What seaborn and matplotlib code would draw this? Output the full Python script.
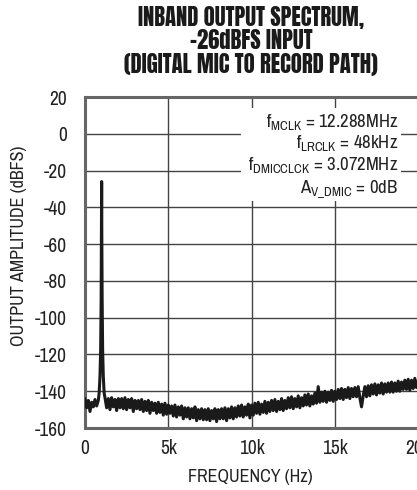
import numpy as np
import pandas as pd
import matplotlib
matplotlib.use("Agg")
import matplotlib.pyplot as plt
import seaborn as sns

# -----------------------------
# Data
# -----------------------------
# low band before the 1kHz tone (100Hz steps)
pre_freq = [0, 100, 200, 300, 400, 500, 600, 700, 800]
pre_db = [-144, -149, -145, -151, -146, -148.5, -144.5, -148, -145]

# the -26dBFS tone at 1kHz
tone_freq = [850, 900, 940, 970, 990, 1000, 1010, 1030, 1060, 1100, 1150]
tone_db = [-141, -132, -118, -90, -55, -26, -55, -90, -118, -132, -141]

# noise floor 1.2kHz .. 20kHz (100Hz steps)
floor_freq = list(range(1200, 20001, 100))
floor_db = [
    -143.5, -149, -144, -150, -143.5, -148.5, -144.5, -150.5, -144, -149,
    -144, -149.5, -143.5, -150, -144.5, -149, -144, -151, -145, -149.5,
    -145, -150, -144.5, -151, -145.5, -150.5, -145, -152, -146, -150.5,
    -146.5, -152, -146, -151.5, -147, -153, -146.5, -152.5, -147.5, -152,
    -148, -153.5, -147.5, -154, -148.5, -153, -148, -155, -149, -154,
    -149, -155, -149.5, -154.5, -148.5, -156, -150, -155, -149.5, -155.5,
    -150, -155.5, -149.5, -156, -150.5, -155, -149.5, -156.5, -150, -155,
    -149.5, -155, -149, -156, -149.5, -154.5, -148.5, -155, -149, -154,
    -148, -153.5, -147.5, -154, -148.5, -153, -147, -154.5, -147.5, -153,
    -146.5, -152, -146, -152.5, -147, -151.5, -145.5, -152, -146, -151,
    -145, -150.5, -144.5, -151, -145.5, -150, -144, -150.5, -145, -149.5,
    -143.5, -149, -143, -149.5, -144, -148.5, -142.5, -149, -143.5, -148,
    -142, -147.5, -141.5, -148, -142.5, -147, -141, -146.5, -137.5, -146,
    -140.5, -145.5, -140, -146, -140.5, -145, -139.5, -145.5, -140, -144.5,
    -139, -144, -138.5, -144.5, -139, -143.5, -138, -144, -138.5, -143,
    -138, -143, -137.5, -143.5, -148.5, -142.5, -137.5, -143, -137, -142.5,
    -136.5, -141.5, -136, -142, -136.5, -141, -135.5, -141.5, -136, -140.5,
    -135.5, -140.5, -135, -140.5, -135.5, -140, -134.5, -140, -135, -139,
    -134, -139, -133.5, -139.5, -134, -138.5, -133, -138, -134,
]

y_ticks = [20, 0, -20, -40, -60, -80, -100, -120, -140, -160]
x_ticks = [0, 5000, 10000, 15000, 20000]
x_tick_labels = ["0", "5k", "10k", "15k", "20k"]

notes = [
    r"$\mathrm{f_{MCLK}}$ = 12.288MHz",
    r"$\mathrm{f_{LRCLK}}$ = 48kHz",
    r"$\mathrm{f_{DMICCLCK}}$ = 3.072MHz",
    r"$\mathrm{A_{V\_DMIC}}$ = 0dB",
]

df = pd.DataFrame({
    "freq": pre_freq + tone_freq + floor_freq,
    "db": pre_db + tone_db + floor_db,
})

# -----------------------------
# Style
# -----------------------------
sns.set_style("white")
body_font = ["Archivo Narrow", "DejaVu Sans"]
plt.rcParams["font.family"] = body_font
plt.rcParams["axes.unicode_minus"] = False
plt.rcParams["mathtext.fontset"] = "custom"
plt.rcParams["mathtext.rm"] = "Archivo Narrow"
plt.rcParams["mathtext.it"] = "Archivo Narrow"

fig = plt.figure(figsize=(4.17, 4.90), dpi=100)
ax = fig.add_axes([0.2038, 0.1265, 0.799, 0.6755])

sns.lineplot(data=df, x="freq", y="db", ax=ax, color="#1a1a1a",
             linewidth=2.2, estimator=None, sort=False, zorder=3)

ax.set_xlim(0, 20000)
ax.set_ylim(-160, 20)
ax.set_xticks(x_ticks)
ax.set_xticklabels(x_tick_labels)
ax.set_yticks(y_ticks)
ax.tick_params(axis="both", length=0, labelsize=14, colors="#222222")
ax.tick_params(axis="y", pad=13)
ax.tick_params(axis="x", pad=8)

ax.grid(True, color="#444444", linewidth=1.0)
ax.set_axisbelow(True)
for s in ax.spines.values():
    s.set_color("#666666")
    s.set_linewidth(2.2)

ax.set_xlabel("FREQUENCY (Hz)", fontsize=13, color="#222222")
ax.set_ylabel("OUTPUT AMPLITUDE (dBFS)", fontsize=13, color="#222222")
ax.xaxis.set_label_coords(0.497, -0.125)
ax.yaxis.set_label_coords(-0.175, 0.55)

# white patch behind the settings block
ax.add_patch(plt.Rectangle((0.467, 0.685), 0.482, 0.283, transform=ax.transAxes,
                           facecolor="white", edgecolor="none", zorder=2))
note_y = [6.5, -5, -17, -30]
for txt, yy in zip(notes, note_y):
    ax.text(18800, yy, txt, ha="right", va="center", fontsize=13.5,
            color="#222222", zorder=4)

fig.text(0.602, 0.988, "INBAND OUTPUT SPECTRUM,\n-26dBFS INPUT\n(DIGITAL MIC TO RECORD PATH)",
         ha="center", va="top", fontsize=16.3,
         family=["Anton", "DejaVu Sans"],
         linespacing=1.03, color="#1a1a1a")

fig.savefig("out.png", dpi=100)
